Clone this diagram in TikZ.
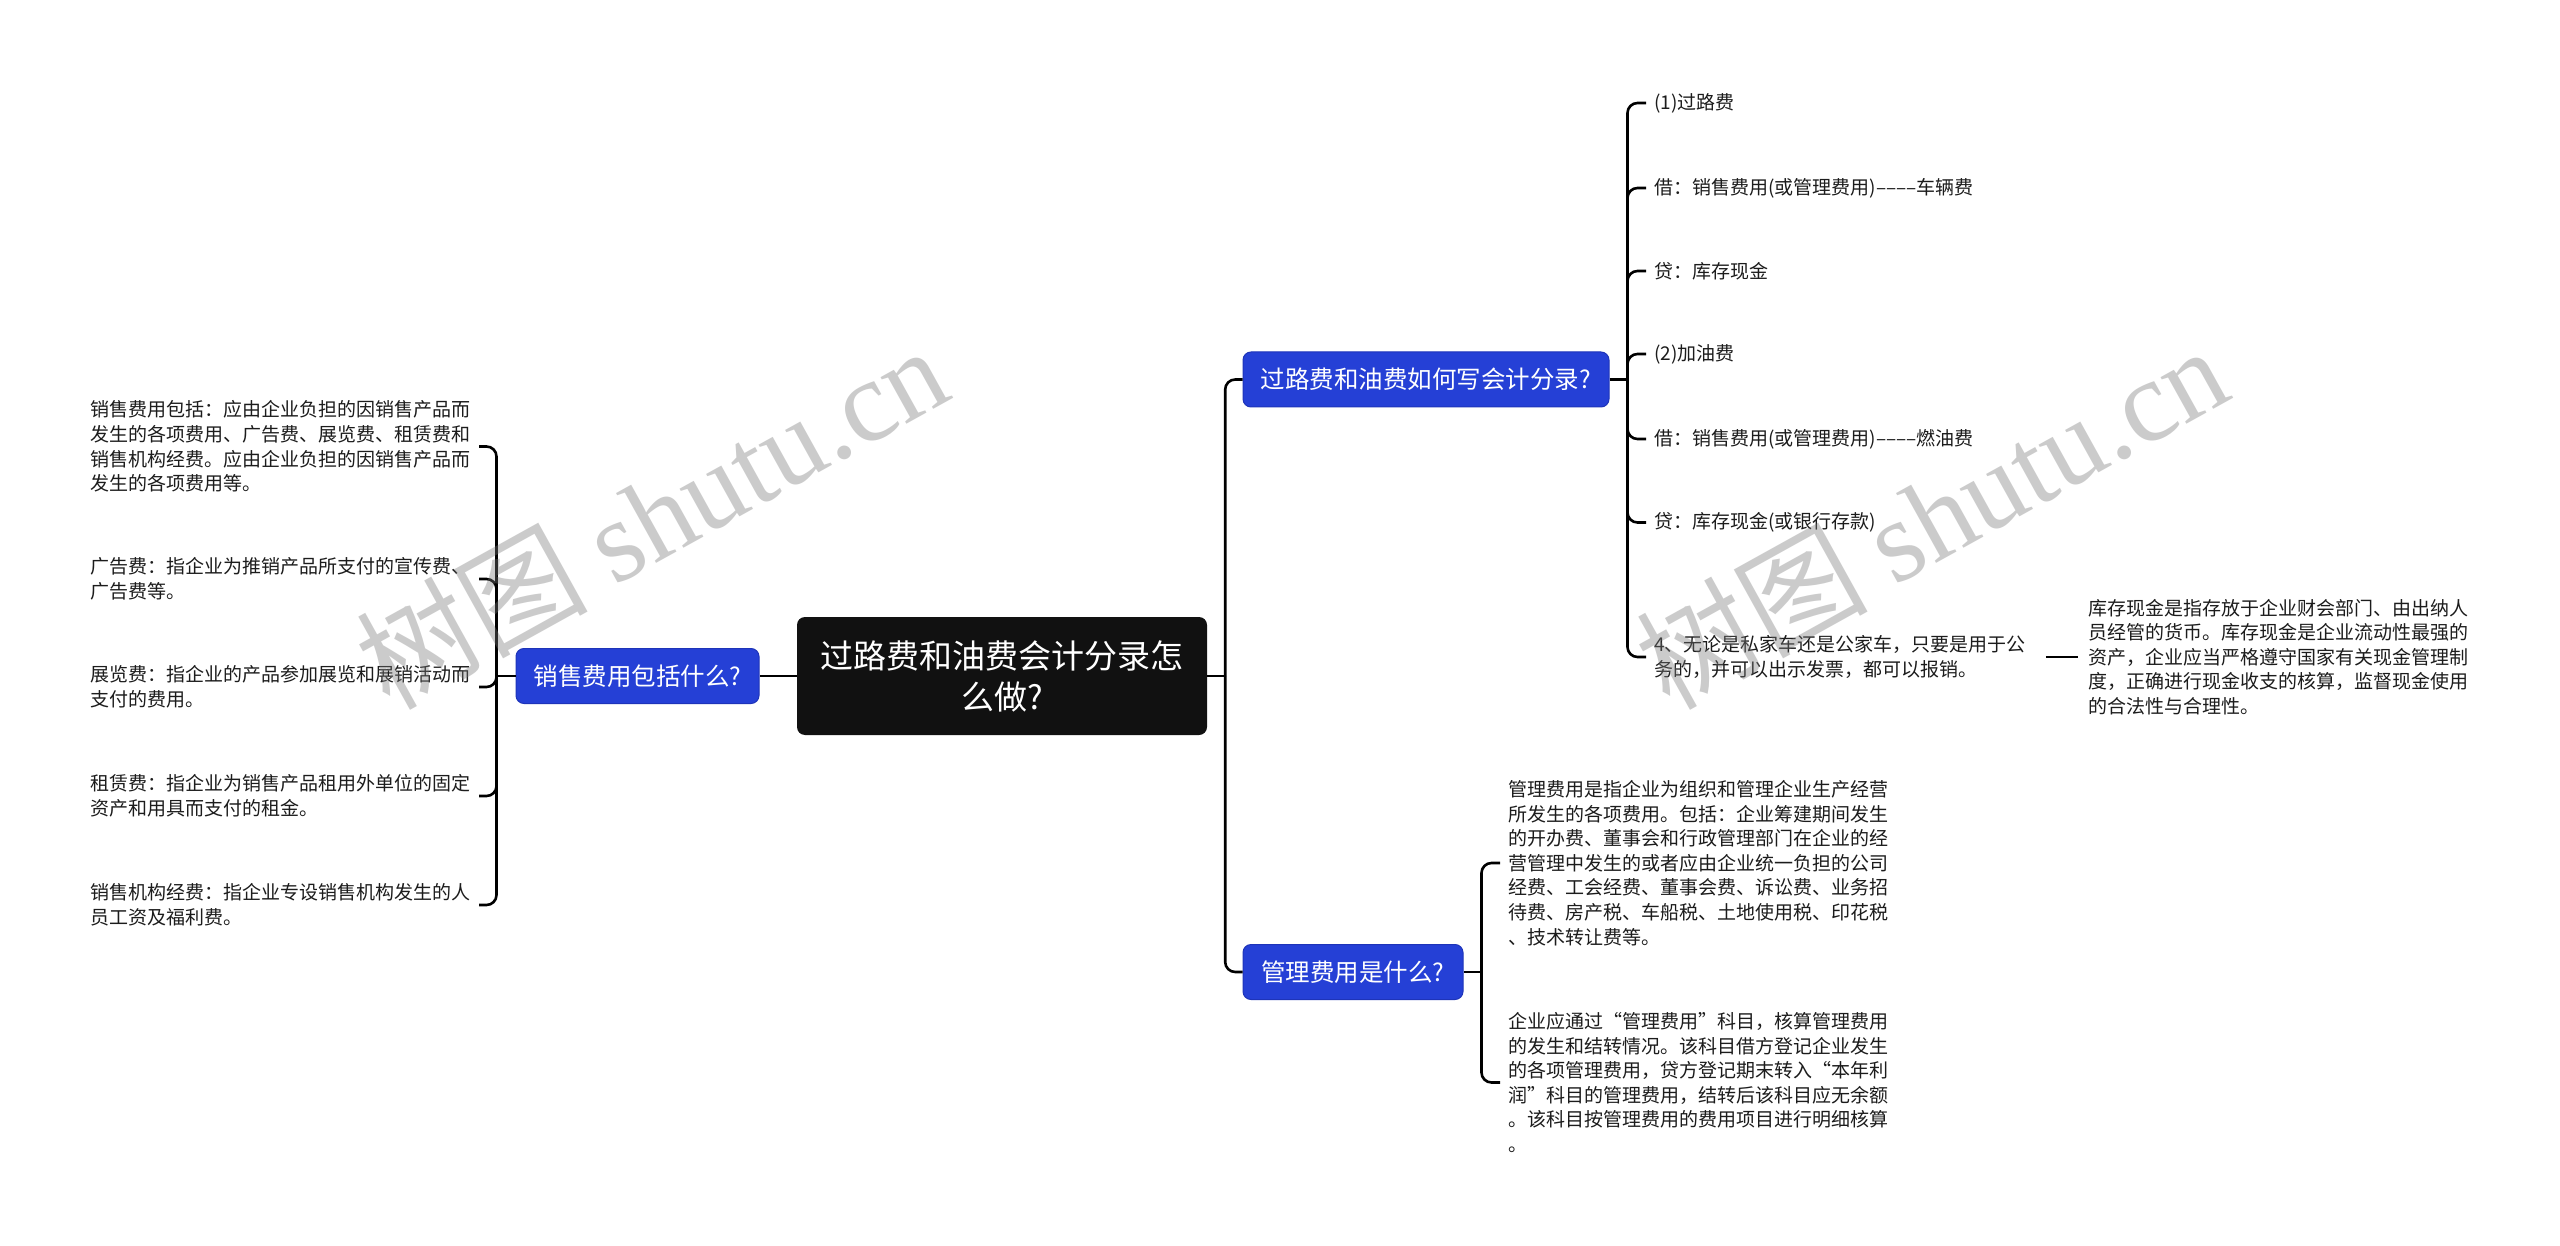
\documentclass[tikz,border=0pt]{standalone}
\usepackage{fontspec}
\setmainfont{Noto Sans CJK SC}
\newfontfamily\wmlat{Liberation Serif}
\usetikzlibrary{calc}
\definecolor{nodeblue}{RGB}{37,64,214}
\definecolor{nodeblueborder}{RGB}{30,52,185}
\definecolor{centerfill}{RGB}{17,17,17}
\definecolor{leaftext}{RGB}{28,28,28}
\definecolor{wmgray}{RGB}{120,120,120}
\begin{document}
\begin{tikzpicture}[x=1pt,y=-1pt,
  conn/.style={line width=2.6pt, black, rounded corners=10pt},
  centerbox/.style={fill=centerfill, rounded corners=8pt, text=white, minimum width=410pt, minimum height=118pt, align=center, font=\fontsize{33}{41}\selectfont, inner sep=0pt},
  topicbox/.style={fill=nodeblue, draw=nodeblueborder, line width=1pt, rounded corners=8pt, text=white, minimum height=55pt, font=\fontsize{24.5}{28}\selectfont, inner sep=0pt},
  leafl/.style={anchor=east, align=left, inner xsep=8pt, inner ysep=0pt, text=leaftext, font=\fontsize{19}{24.6}\selectfont},
  leafr/.style={anchor=west, align=left, inner xsep=8pt, inner ysep=0pt, text=leaftext, font=\fontsize{19}{24.6}\selectfont},
  wmark/.style={rotate=29, text=wmgray, opacity=0.38, inner sep=0pt, font=\fontsize{116}{116}\selectfont}
]
\useasboundingbox[fill=white] (0,0) rectangle (2560,1246);

% main nodes
\node[centerbox] (C) at (1002,676) {过路费和油费会计分录怎\\么做?};
\node[topicbox, minimum width=243pt] (L) at (637.5,676) {销售费用包括什么?};
\node[topicbox, minimum width=366pt] (T) at (1426,379.5) {过路费和油费如何写会计分录?};
\node[topicbox, minimum width=220pt] (B) at (1353,972) {管理费用是什么?};

% left leaves
\node[leafl] (l1) at (479,446.5) {销售费用包括：应由企业负担的因销售产品而\\发生的各项费用、广告费、展览费、租赁费和\\销售机构经费。应由企业负担的因销售产品而\\发生的各项费用等。};
\node[leafl] (l2) at (479,579) {广告费：指企业为推销产品所支付的宣传费、\\广告费等。};
\node[leafl] (l3) at (479,687) {展览费：指企业的产品参加展览和展销活动而\\支付的费用。};
\node[leafl] (l4) at (479,796) {租赁费：指企业为销售产品租用外单位的固定\\资产和用具而支付的租金。};
\node[leafl] (l5) at (479,905) {销售机构经费：指企业专设销售机构发生的人\\员工资及福利费。};

% right top leaves
\node[leafr] (r1) at (1646,103) {(1)过路费};
\node[leafr] (r2) at (1646,188) {借：销售费用(或管理费用)––––车辆费};
\node[leafr] (r3) at (1646,271) {贷：库存现金};
\node[leafr] (r4) at (1646,354) {(2)加油费};
\node[leafr] (r5) at (1646,439) {借：销售费用(或管理费用)––––燃油费};
\node[leafr] (r6) at (1646,522.5) {贷：库存现金(或银行存款)};
\node[leafr] (r7) at (1646,657) {4、无论是私家车还是公家车，只要是用于公\\务的，并可以出示发票，都可以报销。};
\node[leafr] (kc) at (2080,657) {库存现金是指存放于企业财会部门、由出纳人\\员经管的货币。库存现金是企业流动性最强的\\资产，企业应当严格遵守国家有关现金管理制\\度，正确进行现金收支的核算，监督现金使用\\的合法性与合理性。};

% bottom leaves
\node[leafr] (b1) at (1500,863) {管理费用是指企业为组织和管理企业生产经营\\所发生的各项费用。包括：企业筹建期间发生\\的开办费、董事会和行政管理部门在企业的经\\营管理中发生的或者应由企业统一负担的公司\\经费、工会经费、董事会费、诉讼费、业务招\\待费、房产税、车船税、土地使用税、印花税\\、技术转让费等。};
\node[leafr] (b2) at (1500,1082.5) {企业应通过“管理费用”科目，核算管理费用\\的发生和结转情况。该科目借方登记企业发生\\的各项管理费用，贷方登记期末转入“本年利\\润”科目的管理费用，结转后该科目应无余额\\。该科目按管理费用的费用项目进行明细核算\\。};

% connectors
\coordinate (cj) at ([xshift=18pt]C.east);
\coordinate (lj) at ([xshift=-19pt]L.west);
\coordinate (tj) at ([xshift=18pt]T.east);
\coordinate (bj) at ([xshift=18pt]B.east);

\draw[conn] (C.west) -- (L.east);
\draw[conn] (C.east) -- (cj);
\draw[conn] (cj) |- (T.west);
\draw[conn] (cj) |- (B.west);

\draw[conn] (L.west) -- (lj);
\foreach \n in {l1,l2,l3,l4,l5} \draw[conn] (lj) |- (\n.east);

\draw[conn] (T.east) -- (tj);
\foreach \n in {r1,r2,r3,r4,r5,r6,r7} \draw[conn] (tj) |- (\n.west);

\draw[conn] (B.east) -- (bj);
\foreach \n in {b1,b2} \draw[conn] (bj) |- (\n.west);

\draw[conn] ([xshift=12pt]r7.east) -- ([xshift=-2pt]kc.west);

% watermarks
\node[wmark] (wm1) at (651,516) {树图 {\wmlat shutu.cn}};
\node[wmark] (wm2) at (1931,516) {树图 {\wmlat shutu.cn}};
\end{tikzpicture}
\end{document}
